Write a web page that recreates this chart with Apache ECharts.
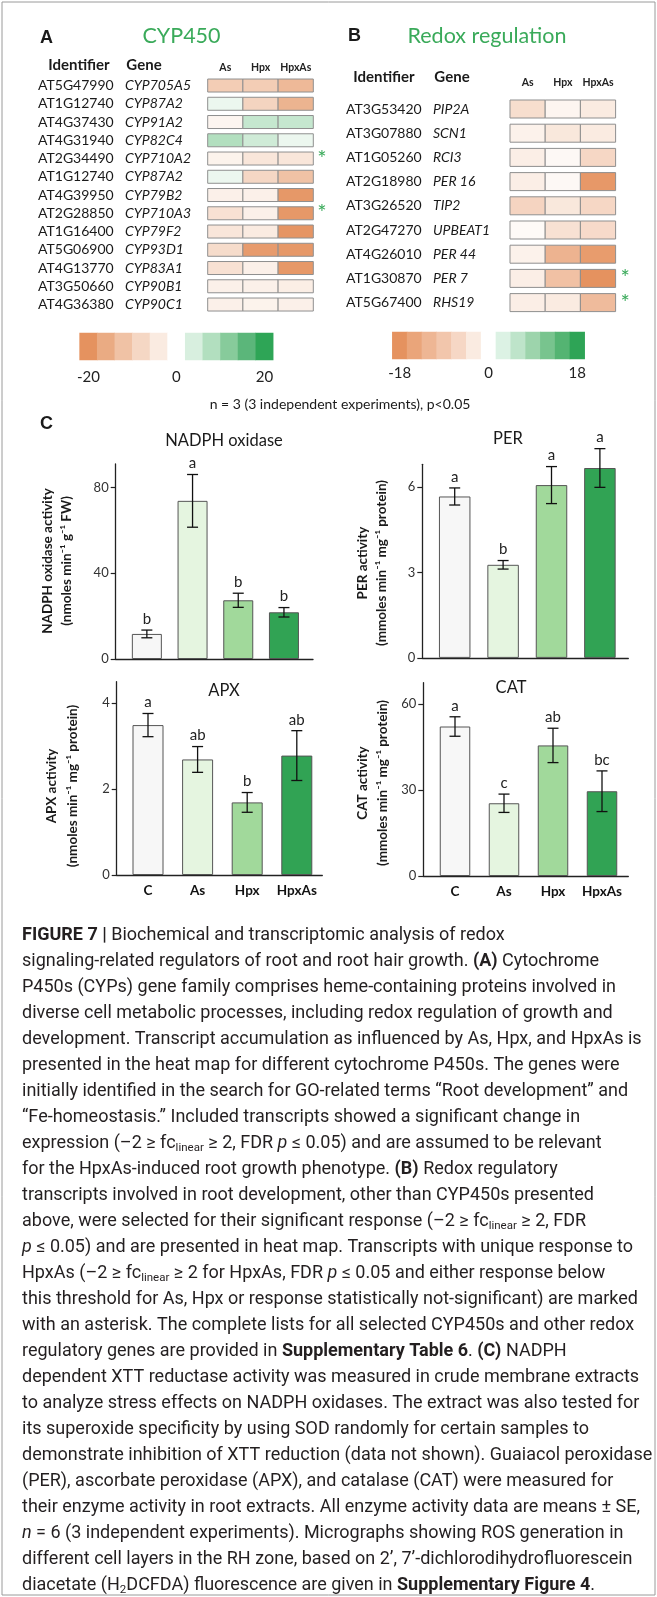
<!DOCTYPE html>
<html><head><meta charset="utf-8">
<script src="https://cdn.jsdelivr.net/npm/echarts@6/dist/echarts.min.js"></script>
<style>html,body{margin:0;padding:0;background:#fff}#c{width:657px;height:1597px}</style>
</head><body><div id="c"></div>
<script>
// ---------- DATA ----------
const conditions = ['As', 'Hpx', 'HpxAs'];
const cypIds = ['AT5G47990','AT1G12740','AT4G37430','AT4G31940','AT2G34490','AT1G12740','AT4G39950','AT2G28850','AT1G16400','AT5G06900','AT4G13770','AT3G50660','AT4G36380'];
const cypGenes = ['CYP705A5','CYP87A2','CYP91A2','CYP82C4','CYP710A2','CYP87A2','CYP79B2','CYP710A3','CYP79F2','CYP93D1','CYP83A1','CYP90B1','CYP90C1'];
const cypAs    = [-10,  2, -2,  8, -2.5,  2, -3, -6, -5,  -7,  -6, -3, -3];
const cypHpx   = [-10, -8.5, 6, 5, -5, -8, -3, -3, -4, -18.5, -3, -3, -2.5];
const cypHpxAs = [-13.5, -14.5, 6, 2, -5, -12, -19, -19, -19.5, -19, -19, -3.5, -3];
const cypStar  = [0,0,0,0,1,0,0,1,0,0,0,0,0];

const redoxIds = ['AT3G53420','AT3G07880','AT1G05260','AT2G18980','AT3G26520','AT2G47270','AT4G26010','AT1G30870','AT5G67400'];
const redoxGenes = ['PIP2A','SCN1','RCI3','PER 16','TIP2','UPBEAT1','PER 44','PER 7','RHS19'];
const redoxAs    = [-5, -2, -2.5, -2.5, -6.5, -0.8, -2, -2.5, -2.5];
const redoxHpx   = [-1.5, -3.5, -1, -1, -3.5, -4.5, -12.5, -10, -3];
const redoxHpxAs = [-3, -3, -6, -17, -6, -5.5, -16.5, -18, -11];
const redoxStar  = [0,0,0,0,0,0,0,1,1];

const cypScale = [-20,-16,-12,-8,-4,0,4,8,12,16,20];
const cypScaleLabels = ['-20','','','','','0','','','','','20'];
const cypColors = ['#e5925f','#eaab83','#f0c2a5','#f5d7c4','#faebe1','#ffffff','#d8efdf','#b2dfbf','#87cb9b','#5bb67a','#2ea556'];
const redoxScale = [-18,-15,-12,-9,-6,-3,0,3,6,9,12,15,18];
const redoxScaleLabels = ['-18','','','','','','0','','','','','','18'];
const redoxColors = ['#e5925f','#eaa57a','#eeb694','#f2c6ac','#f6d7c5','#faebe1','#ffffff','#dcf2e4','#bee4ca','#9dd4ac','#78c48e','#54b472','#2ea456'];

const groups = ['C', 'As', 'Hpx', 'HpxAs'];
const groupColors = ['#f7f7f7', '#e5f5e0', '#a1d99b', '#31a354'];

const nadphMean = [11.7, 73.8, 27.4, 21.8];
const nadphSE   = [1.8, 12.3, 3.3, 2.2];
const nadphLetters = ['b','a','b','b'];
const nadphTicks = [0, 40, 80];

const perMean = [5.67, 3.27, 6.07, 6.67];
const perSE   = [0.3, 0.15, 0.65, 0.68];
const perLetters = ['a','b','a','a'];
const perTicks = [0, 3, 6];

const apxMean = [3.49, 2.69, 1.69, 2.78];
const apxSE   = [0.27, 0.3, 0.23, 0.58];
const apxLetters = ['a','ab','b','ab'];
const apxTicks = [0, 2, 4];

const catMean = [52.2, 25.4, 45.6, 29.6];
const catSE   = [3.4, 3.2, 6.0, 7.1];
const catLetters = ['a','c','ab','bc'];
const catTicks = [0, 30, 60];

const axisMax = [91, 6.8, 4.5, 67.5];

// ---------- LAYOUT ----------
const FONT = 'Lato, "Open Sans", sans-serif';
const CFONT = 'Roboto, "Liberation Sans", sans-serif';
const TXT = '#1a1a1a';
const GREEN = '#3aaa5a';

const heatLayouts = [
  {left: 207.7, top: 76.4, width: 105.6, rows: 13, pitch: 18.25, cellH: 13, labMargin: 8, geneW: 74.7, hdrMargin: 3.5, starMargin: 4},
  {left: 510, top: 96.9, width: 105.6, rows: 9, pitch: 24.2, cellH: 18, labMargin: 8, geneW: 69, hdrMargin: 9, starMargin: 5}
];
const legendLayouts = [
  {left: 79.6, top: 333, width: 193.6, height: 27, margin: 10},
  {left: 392.3, top: 332, width: 192.4, height: 27, margin: 7}
];
const panelLayouts = [
  {axis: {left: 115.7, top: 464, width: 197.3, height: 195}, bars: {left: 124, width: 182.8}, barWidth: 30, showX: false},
  {axis: {left: 422.3, top: 464.3, width: 206, height: 193.6}, bars: {left: 430.5, width: 193.6}, barWidth: 31.5, showX: false},
  {axis: {left: 116.7, top: 681.7, width: 205.6, height: 193.3}, bars: {left: 123.2, width: 198.4}, barWidth: 31, showX: true},
  {axis: {left: 423.3, top: 682.7, width: 205, height: 193.3}, bars: {left: 430.5, width: 196}, barWidth: 30.5, showX: true}
];

const heatSets = [
  {ids: cypIds, genes: cypGenes, cols: [cypAs, cypHpx, cypHpxAs], star: cypStar},
  {ids: redoxIds, genes: redoxGenes, cols: [redoxAs, redoxHpx, redoxHpxAs], star: redoxStar}
];
const panelSets = [
  {mean: nadphMean, se: nadphSE, letters: nadphLetters, ticks: nadphTicks},
  {mean: perMean, se: perSE, letters: perLetters, ticks: perTicks},
  {mean: apxMean, se: apxSE, letters: apxLetters, ticks: apxTicks},
  {mean: catMean, se: catSE, letters: catLetters, ticks: catTicks}
];

const grid = [], xAxis = [], yAxis = [], series = [], graphic = [];

// grids 0,1 : heatmaps   (xAxis 0,1 ; yAxis 0..3)
heatSets.forEach((hs, k) => {
  const L = heatLayouts[k];
  grid.push({left: L.left, top: L.top, width: L.width, height: L.rows * L.pitch});
  xAxis.push({gridIndex: k, type: 'category', data: conditions, position: 'top',
    axisLine: {show: false}, axisTick: {show: false},
    axisLabel: {interval: 0, hideOverlap: false, fontFamily: FONT, fontWeight: 'bold', fontSize: 10.5, color: '#222', margin: L.hdrMargin}});
  const idx = hs.ids.map((_, i) => i);
  yAxis.push({gridIndex: k, type: 'category', data: idx, inverse: true,
    axisLine: {show: false}, axisTick: {show: false},
    axisLabel: {interval: 0, margin: L.labMargin, formatter: (v, i) => '{id|' + hs.ids[i] + '}{g|' + hs.genes[i] + '}',
      rich: {id: {width: 87, align: 'left', fontFamily: FONT, fontSize: 14, color: TXT},
             g: {width: L.geneW, align: 'left', fontFamily: FONT, fontSize: 14, fontStyle: 'italic', color: TXT}}}});
  yAxis.push({gridIndex: k, type: 'category', data: idx, inverse: true, position: 'right',
    axisLine: {show: false}, axisTick: {show: false},
    axisLabel: {interval: 0, margin: L.starMargin, align: 'left', formatter: (v, i) => hs.star[i] ? '*' : '',
      fontFamily: FONT, fontSize: 22, color: GREEN, padding: [10, 0, 0, 0]}});
});
// grids 2,3 : colour legends (xAxis 2,3 ; yAxis 4,5)
legendLayouts.forEach((L, k) => {
  grid.push({left: L.left, top: L.top, width: L.width, height: L.height});
  const scale = k === 0 ? cypScale : redoxScale;
  const labs = k === 0 ? cypScaleLabels : redoxScaleLabels;
  xAxis.push({gridIndex: 2 + k, type: 'category', data: scale.map(String),
    axisLine: {show: false}, axisTick: {show: false},
    axisLabel: {interval: 0, margin: L.margin, formatter: (v, i) => labs[i], fontFamily: FONT, fontSize: 15, color: '#222'}});
  yAxis.push({gridIndex: 2 + k, type: 'category', data: ['0'], show: false});
});
// grids 4..7 : axes frames (xAxis 4..7 ; yAxis 6..9)
panelLayouts.forEach((P) => {
  grid.push({left: P.axis.left, top: P.axis.top, width: P.axis.width, height: P.axis.height});
});
// grids 8..11 : bars (xAxis 8..11 ; yAxis 10..13)
panelLayouts.forEach((P) => {
  grid.push({left: P.bars.left, top: P.axis.top, width: P.bars.width, height: P.axis.height});
});
panelLayouts.forEach((P, k) => {
  xAxis.push({gridIndex: 4 + k, type: 'category', data: groups,
    axisLine: {show: true, lineStyle: {color: '#222', width: 1.3}}, axisTick: {show: false}, axisLabel: {show: false}});
  yAxis.push({gridIndex: 4 + k, type: 'value', min: 0, max: axisMax[k],
    axisLine: {show: true, lineStyle: {color: '#222', width: 1.3}},
    axisTick: {show: true, length: 5, customValues: panelSets[k].ticks, lineStyle: {color: '#222', width: 1.2}},
    axisLabel: {customValues: panelSets[k].ticks, margin: 7, fontFamily: FONT, fontSize: 13, color: '#333'},
    splitLine: {show: false}});
});
panelLayouts.forEach((P, k) => {
  xAxis.push({gridIndex: 8 + k, type: 'category', data: groups,
    axisLine: {show: false}, axisTick: {show: false},
    axisLabel: {show: P.showX, interval: 0, hideOverlap: false, margin: 9, fontFamily: FONT, fontWeight: 'bold', fontSize: 13.5, color: '#111'}});
  yAxis.push({gridIndex: 8 + k, type: 'value', min: 0, max: axisMax[k], show: false, splitLine: {show: false}});
});

// ---------- SERIES ----------
heatSets.forEach((hs, k) => {
  const L = heatLayouts[k];
  const data = [];
  hs.cols.forEach((col, c) => col.forEach((v, r) => data.push([c, r, v])));
  series.push({type: 'custom', xAxisIndex: k, yAxisIndex: 2 * k, data: data, encode: {x: 0, y: 1},
    renderItem: (params, api) => {
      const p = api.coord([api.value(0), api.value(1)]);
      const s = api.size([1, 1]);
      return {type: 'rect', shape: {x: p[0] - s[0] / 2, y: p[1] - L.cellH / 2, width: s[0], height: L.cellH},
        style: {fill: api.visual('color'), stroke: '#8f8f8f', lineWidth: 1}};
    }});
});
[cypScale, redoxScale].forEach((scale, k) => {
  series.push({type: 'heatmap', xAxisIndex: 2 + k, yAxisIndex: 4 + k,
    data: scale.map((v, i) => [i, 0, v]), itemStyle: {borderWidth: 0}, emphasis: {disabled: true}});
});
panelSets.forEach((ps, k) => {
  series.push({type: 'bar', xAxisIndex: 8 + k, yAxisIndex: 10 + k, barWidth: panelLayouts[k].barWidth,
    data: ps.mean.map((v, i) => ({value: v, itemStyle: {color: groupColors[i]}})),
    itemStyle: {borderColor: '#555', borderWidth: 1}, z: 2});
});
panelSets.forEach((ps, k) => {
  series.push({type: 'custom', xAxisIndex: 8 + k, yAxisIndex: 10 + k, z: 5,
    data: ps.mean.map((m, i) => [i, m, ps.se[i]]), encode: {x: 0, y: 1},
    renderItem: (params, api) => {
      const x = api.value(0), m = api.value(1), se = api.value(2);
      const t = api.coord([x, m + se]), b = api.coord([x, m - se]);
      const cap = 5.5, st = {stroke: '#111', lineWidth: 1.3};
      return {type: 'group', children: [
        {type: 'line', shape: {x1: t[0], y1: t[1], x2: b[0], y2: b[1]}, style: st},
        {type: 'line', shape: {x1: t[0] - cap, y1: t[1], x2: t[0] + cap, y2: t[1]}, style: st},
        {type: 'line', shape: {x1: b[0] - cap, y1: b[1], x2: b[0] + cap, y2: b[1]}, style: st},
        {type: 'text', x: t[0], y: t[1] - 11, style: {text: ps.letters[params.dataIndex], align: 'center', verticalAlign: 'middle',
          fontFamily: FONT, fontSize: 15, fill: '#222'}}
      ]};
    }});
});

// ---------- TEXT (graphic) ----------
function txt(x, y, text, o) {
  graphic.push({type: 'text', x: x, y: y, silent: true,
    style: Object.assign({text: text, fontFamily: FONT, fontSize: 14, fill: TXT, align: 'center', verticalAlign: 'middle'}, o || {})});
}
function rtxt(x, y, text, o) {
  graphic.push({type: 'text', x: x, y: y, rotation: Math.PI / 2, silent: true,
    style: Object.assign({text: text, fontFamily: FONT, fontSize: 13.5, fontWeight: 'bold', fill: TXT, align: 'center', verticalAlign: 'middle'}, o || {})});
}
graphic.push({type: 'rect', shape: {x: 2, y: 2, width: 653, height: 1593}, style: {fill: 'none', stroke: '#9a9a9a', lineWidth: 1}, silent: true, z: -1});

const AFONT = '"Liberation Sans", Arial, sans-serif';
txt(40, 38, 'A', {fontFamily: AFONT, fontWeight: 'bold', fontSize: 18, align: 'left'});
txt(181.5, 36, 'CYP450', {fontSize: 21.5, fill: GREEN});
txt(348, 36, 'B', {fontFamily: AFONT, fontWeight: 'bold', fontSize: 18, align: 'left'});
txt(487, 36, 'Redox regulation', {fontSize: 21.5, fill: GREEN});
txt(79, 65, 'Identifier', {fontWeight: 'bold', fontSize: 15});
txt(144, 65, 'Gene', {fontWeight: 'bold', fontSize: 15});
txt(384, 77, 'Identifier', {fontWeight: 'bold', fontSize: 15});
txt(452, 77, 'Gene', {fontWeight: 'bold', fontSize: 15});
txt(340, 404, 'n = 3 (3 independent experiments), p<0.05', {fontSize: 14});
txt(40, 424, 'C', {fontFamily: AFONT, fontWeight: 'bold', fontSize: 18, align: 'left'});

txt(224, 441, 'NADPH oxidase', {fontSize: 16.5});
txt(508, 439, 'PER', {fontSize: 16.5});
txt(224, 691, 'APX', {fontSize: 16.5});
txt(511, 688, 'CAT', {fontSize: 16.5});

rtxt(48, 561, 'NADPH oxidase activity');
rtxt(66.5, 561, '(nmoles min⁻¹ g⁻¹ FW)');
rtxt(363, 563, 'PER activity');
rtxt(381.5, 563, '(mmoles min⁻¹ mg⁻¹ protein)');
rtxt(52, 786, 'APX activity');
rtxt(73, 786, '(nmoles min⁻¹ mg⁻¹ protein)');
rtxt(363, 783, 'CAT activity');
rtxt(383, 783, '(mmoles min⁻¹ mg⁻¹ protein)');

const captionLines = [
 '{b|FIGURE 7 |} Biochemical and transcriptomic analysis of redox',
 'signaling-related regulators of root and root hair growth. {b|(A)} Cytochrome',
 'P450s (CYPs) gene family comprises heme-containing proteins involved in',
 'diverse cell metabolic processes, including redox regulation of growth and',
 'development. Transcript accumulation as influenced by As, Hpx, and HpxAs is',
 'presented in the heat map for different cytochrome P450s. The genes were',
 'initially identified in the search for GO-related terms “Root development” and',
 '“Fe-homeostasis.” Included transcripts showed a significant change in',
 'expression (–2 ≥ fc{sub|linear} ≥ 2, FDR {i|p} ≤ 0.05) and are assumed to be relevant',
 'for the HpxAs-induced root growth phenotype. {b|(B)} Redox regulatory',
 'transcripts involved in root development, other than CYP450s presented',
 'above, were selected for their significant response (–2 ≥ fc{sub|linear} ≥ 2, FDR',
 '{i|p} ≤ 0.05) and are presented in heat map. Transcripts with unique response to',
 'HpxAs (–2 ≥ fc{sub|linear} ≥ 2 for HpxAs, FDR {i|p} ≤ 0.05 and either response below',
 'this threshold for As, Hpx or response statistically not-significant) are marked',
 'with an asterisk. The complete lists for all selected CYP450s and other redox',
 'regulatory genes are provided in {b|Supplementary Table 6}. {b|(C)} NADPH',
 'dependent XTT reductase activity was measured in crude membrane extracts',
 'to analyze stress effects on NADPH oxidases. The extract was also tested for',
 'its superoxide specificity by using SOD randomly for certain samples to',
 'demonstrate inhibition of XTT reduction (data not shown). Guaiacol peroxidase',
 '(PER), ascorbate peroxidase (APX), and catalase (CAT) were measured for',
 'their enzyme activity in root extracts. All enzyme activity data are means ± SE,',
 '{i|n} = 6 (3 independent experiments). Micrographs showing ROS generation in',
 'different cell layers in the RH zone, based on 2’, 7’-dichlorodihydrofluorescein',
 'diacetate (H{sub|2}DCFDA) fluorescence are given in {b|Supplementary Figure 4}.'
];
const CAP_FS = 18;
captionLines.forEach((line, i) => {
  graphic.push({type: 'text', x: 22, y: 935 + i * 26.0, silent: true,
    style: {text: line, fontFamily: CFONT, fontSize: CAP_FS, fill: '#231f20', align: 'left', verticalAlign: 'middle', lineHeight: 22,
      rich: {b: {fontFamily: CFONT, fontSize: CAP_FS, fontWeight: 'bold', fill: '#231f20', lineHeight: 22},
             i: {fontFamily: CFONT, fontSize: CAP_FS, fontStyle: 'italic', fill: '#231f20', lineHeight: 22},
             sub: {fontFamily: CFONT, fontSize: 11.5, fill: '#231f20', lineHeight: 12, verticalAlign: 'bottom'}}}});
});

const chart = echarts.init(document.getElementById('c'), null, {renderer: 'canvas'});
chart.setOption({
  animation: false,
  backgroundColor: '#fff',
  grid: grid, xAxis: xAxis, yAxis: yAxis,
  visualMap: [
    {type: 'continuous', show: false, min: cypScale[0], max: cypScale[cypScale.length - 1], dimension: 2, seriesIndex: [0, 2], inRange: {color: cypColors}},
    {type: 'continuous', show: false, min: redoxScale[0], max: redoxScale[redoxScale.length - 1], dimension: 2, seriesIndex: [1, 3], inRange: {color: redoxColors}}
  ],
  series: series,
  graphic: graphic
});
</script>
</body></html>
